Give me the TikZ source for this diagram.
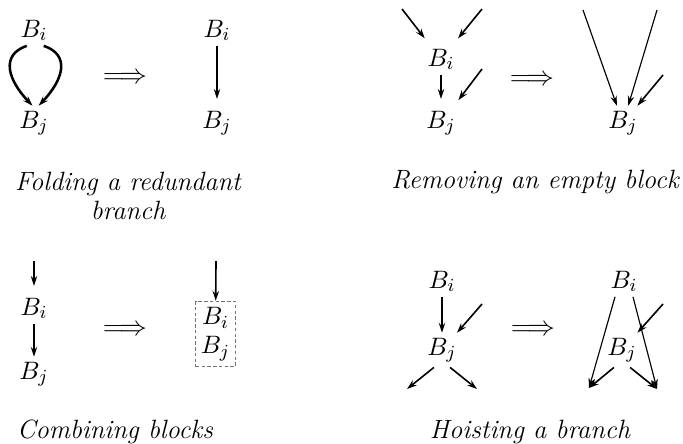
\documentclass[tikz,border=0pt]{standalone}
\usepackage{amsmath,amssymb}
\usetikzlibrary{arrows.meta}
\definecolor{boxgray}{RGB}{115,115,115}

\begin{document}
\begin{tikzpicture}[x=0.4348pt, y=-0.4348pt, >={Stealth[length=4.3pt, width=2.8pt]},
    blk/.style={inner sep=2pt, anchor=base, font=\fontsize{11}{13}\selectfont},
    edge/.style={->, line width=0.7pt},
    thinedge/.style={->, line width=0.5pt},
    gap/.style={shorten >=3pt},
    impl/.style={font=\fontsize{12}{14}\selectfont},
    caption/.style={font=\fontsize{11.5}{12.5}\selectfont\itshape, align=center}]

  % pixel grid, y pointing down
  \useasboundingbox (0,0) rectangle (683,443);

  % --- Folding a redundant branch ---
  \node[blk] (fi) at (34,37) {$B_i$};
  \node[blk] (fj) at (34,128) {$B_j$};
  \draw[edge, line width=1.1pt] (fi.-115) .. controls (0,55) and (8,80) .. (fj.95);
  \draw[edge, line width=1.1pt] (fi.-58) .. controls (71,55) and (63,80) .. (fj.75);
  \node[impl] (fimp) at (125,78) {$\Longrightarrow$};
  \node[blk] (fi2) at (217,37) {$B_i$};
  \node[blk] (fj2) at (217,128) {$B_j$};
  \draw[edge, gap] (fi2) -- (fj2);
  \node[caption] (fcap) at (128,196) {Folding a redundant\\branch};

  % --- Removing an empty block ---
  \coordinate (ra) at (402,9);
  \coordinate (rb) at (482,9);
  \coordinate (rc) at (482,69);
  \node[blk] (ri) at (441,66) {$B_i$};
  \node[blk] (rj) at (441,128) {$B_j$};
  \draw[edge, gap] (ra) -- (ri);
  \draw[edge, gap] (rb) -- (ri);
  \draw[edge, gap] (ri) -- (rj);
  \draw[edge, gap] (rc) -- (rj);
  \node[impl] (rimp) at (532,80) {$\Longrightarrow$};
  \coordinate (ra2) at (583,10);
  \coordinate (rb2) at (657,10);
  \coordinate (rc2) at (663,75);
  \node[blk] (rj2) at (623,128) {$B_j$};
  \draw[thinedge] (ra2) -- (rj2);
  \draw[thinedge] (rb2) -- (rj2);
  \draw[edge] (rc2) -- (rj2);
  \node[caption] (rcap) at (535,182) {Removing an empty block};

  % --- Combining blocks ---
  \coordinate (ca) at (34,261);
  \node[blk] (ci) at (34,315) {$B_i$};
  \node[blk] (cj) at (34,379) {$B_j$};
  \draw[edge, gap] (ca) -- (ci);
  \draw[edge] (ci) -- (cj);
  \node[impl] (cimp) at (125,330) {$\Longrightarrow$};
  \coordinate (ca2) at (216,261);
  \node[draw=boxgray, line width=0.5pt, dash pattern=on 1.5pt off 1pt,
        inner xsep=2.2pt, inner ysep=2.6pt, align=center,
        font=\fontsize{11}{12.5}\selectfont] (cbox) at (215.5,334) {$B_i$\\$B_j$};
  \draw[edge] (ca2) -- (cbox);
  \node[caption] (ccap) at (115,432) {Combining blocks};

  % --- Hoisting a branch ---
  \coordinate (hin) at (482,304);
  \coordinate (ho1) at (407,389);
  \coordinate (ho2) at (477,389);
  \node[blk] (hi) at (442,288) {$B_i$};
  \node[blk] (hj) at (442,355) {$B_j$};
  \draw[edge] (hi) -- (hj);
  \draw[edge] (hin) -- (hj);
  \draw[edge] (hj.-115) -- (ho1);
  \draw[edge] (hj.-65) -- (ho2);
  \node[impl] (himp) at (533,330) {$\Longrightarrow$};
  \coordinate (hin2) at (663,304);
  \coordinate (ho3) at (589,388);
  \coordinate (ho4) at (657,389);
  \node[blk] (hi2) at (624,288) {$B_i$};
  \node[blk] (hj2) at (622,355) {$B_j$};
  \draw[thinedge] (hi2.-120) -- (ho3);
  \draw[thinedge] (hi2.-60) -- (ho4);
  \draw[edge] (hin2) -- (hj2);
  \draw[edge] (hj2.-115) -- (ho3);
  \draw[edge] (hj2.-65) -- (ho4);
  \node[caption] (hcap) at (530,432) {Hoisting a branch};

\end{tikzpicture}
\end{document}
